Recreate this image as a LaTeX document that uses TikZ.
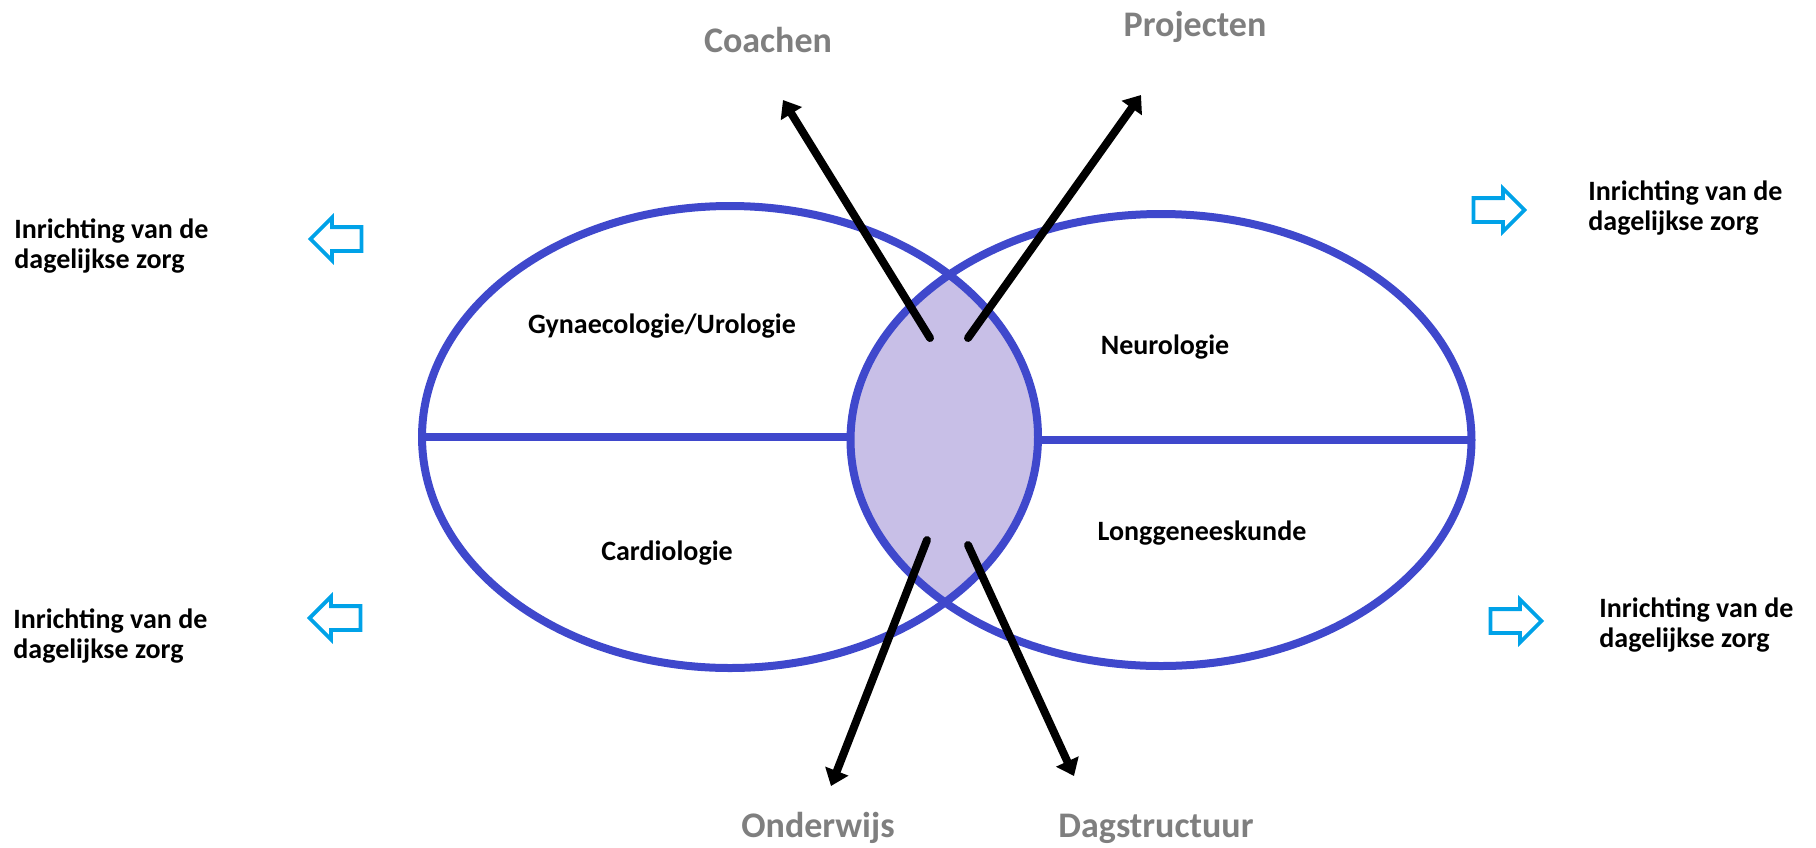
\documentclass[tikz,border=0pt]{standalone}
\usepackage{fontspec}
\setmainfont{Carlito}
\usepackage{xcolor}
\usepackage{tikz}
\usetikzlibrary{arrows.meta,shapes.geometric,shapes.arrows}
\definecolor{wardblue}{HTML}{3F48CC}
\definecolor{lensfill}{HTML}{C8BFE7}
\definecolor{careblue}{HTML}{00A2E8}
\definecolor{taskgray}{HTML}{7F7F7F}

\begin{document}
\begin{tikzpicture}[
  x=0.5pt, y=-0.5pt,
  ward/.style={ellipse, draw=wardblue, line width=4pt, inner sep=0pt, outer sep=0pt},
  divider/.style={draw=wardblue, line width=4pt},
  unit/.style={font=\fontsize{14}{15}\selectfont\bfseries, anchor=base},
  task/.style={font=\fontsize{18}{20}\selectfont\bfseries, text=taskgray, anchor=base},
  care/.style={font=\fontsize{14}{15}\selectfont\bfseries, align=left,
    anchor=base west, inner sep=0pt},
  hollow/.style={single arrow, draw=careblue, line width=1.9pt, minimum height=25.5pt,
    inner xsep=0pt, inner ysep=5pt, single arrow head extend=4.75pt},
  flow/.style={draw=black, line width=4pt, line cap=round,
    -{Triangle[length=8pt,width=12pt]}}
]
  \useasboundingbox (0,0) rectangle (1816,847);
  \coordinate (Lc) at (730,437);
  \coordinate (Rc) at (1161,440);

  % shared part of the two wards
  \begin{scope}
    \clip (Lc) ellipse [x radius=308, y radius=231];
    \fill[lensfill] (Rc) ellipse [x radius=310.5, y radius=226];
  \end{scope}

  \node[ward, minimum width=308pt, minimum height=231pt] (L) at (Lc) {};
  \node[ward, minimum width=310.5pt, minimum height=226pt] (R) at (Rc) {};
  \draw[divider] (L.west) -- (L.west -| R.west);
  \draw[divider] (R.east) -- (R.east -| L.east);

  \node[unit] (gyn) at (662,333) {Gynaecologie/Urologie};
  \node[unit] (card) at (667,560) {Cardiologie};
  \node[unit] (neuro) at (1165,354) {Neurologie};
  \node[unit] (long) at (1202,540) {Longgeneeskunde};

  \node[task] (coach) at (768,52) {Coachen};
  \node[task] (proj) at (1195,36) {Projecten};
  \node[task] (onder) at (818,837) {Onderwijs};
  \node[task] (dag) at (1156,837) {Dagstructuur};

  \coordinate (coachTail) at (930,338);
  \coordinate (coachTip) at (783,100);
  \coordinate (projTail) at (968,338);
  \coordinate (projTip) at (1141,95);
  \coordinate (onderTail) at (927,540);
  \coordinate (onderTip) at (831,786);
  \coordinate (dagTail) at (968,545);
  \coordinate (dagTip) at (1074,776);
  \draw[flow] (coachTail) -- (coachTip);
  \draw[flow] (projTail) -- (projTip);
  \draw[flow] (onderTail) -- (onderTip);
  \draw[flow] (dagTail) -- (dagTip);

  % daily care, four corners (base = last line)
  \node[care] (careLT) at (14,268) {Inrichting van de\\dagelijkse zorg};
  \node[care] (careLB) at (13,658) {Inrichting van de\\dagelijkse zorg};
  \node[care] (careRT) at (1588,230) {Inrichting van de\\dagelijkse zorg};
  \node[care] (careRB) at (1599,647) {Inrichting van de\\dagelijkse zorg};
  \node[hollow, shape border rotate=180] (outLT) at (342,239) {};
  \node[hollow, shape border rotate=180] (outLB) at (341,618) {};
  \node[hollow] (outRT) at (1493,210) {};
  \node[hollow] (outRB) at (1510,621) {};
\end{tikzpicture}
\end{document}
